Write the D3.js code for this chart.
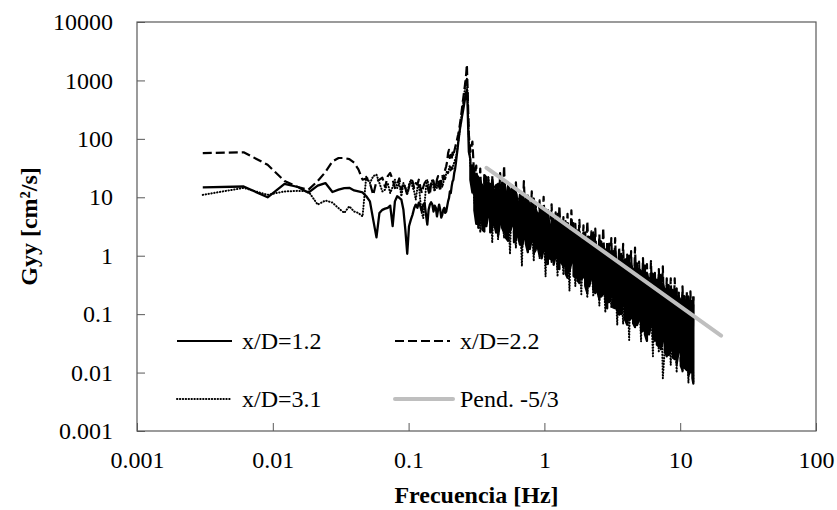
<!DOCTYPE html>
<html>
<head>
<meta charset="utf-8">
<script src="https://cdn.jsdelivr.net/npm/d3@7"></script>
<style>
    body { margin: 0; background: #fff; }
    text { font-family: "Liberation Serif", "Times New Roman", serif; fill: #000; }
</style>
</head>
<body>
<main></main>
<script>
// frequency bins (Hz), low range: one bin every 25/8192 Hz
const freqLow = [0.00305, 0.0061, 0.00916, 0.0122, 0.0153, 0.0183, 0.0214, 0.0244, 0.0275, 0.0305,
    0.0336, 0.0366, 0.0397, 0.0427, 0.0458, 0.0488, 0.0519, 0.0549, 0.058, 0.061,
    0.0641, 0.0671, 0.0702, 0.0732, 0.0763, 0.0793, 0.0824, 0.0854, 0.0885, 0.0916,
    0.0946, 0.0977, 0.1007, 0.1038, 0.1068, 0.1099, 0.1129, 0.116, 0.119, 0.1221,
    0.1251, 0.1282, 0.1312, 0.1343, 0.1373, 0.1404, 0.1434, 0.1465, 0.1495, 0.1526,
    0.1556, 0.1587, 0.1617, 0.1648, 0.1678, 0.1709, 0.174, 0.177, 0.1801, 0.1831,
    0.1862, 0.1892, 0.1923, 0.1953, 0.1984, 0.2014, 0.2045, 0.2075, 0.2106, 0.2136,
    0.2167, 0.2197, 0.2228, 0.2258, 0.2289, 0.2319, 0.235, 0.238, 0.2411, 0.2441,
    0.2472, 0.2502, 0.2533, 0.2563, 0.2594, 0.2625, 0.2655, 0.2686, 0.2716, 0.2747, 0.2777];

// frequencies read along the dense part of the spectrum (Hz)
const freqBand = [0.285, 0.295, 0.305, 0.315, 0.326, 0.337, 0.349, 0.361, 0.373, 0.386,
    0.399, 0.413, 0.427, 0.441, 0.456, 0.472, 0.488, 0.505, 0.522, 0.540,
    0.558, 0.577, 0.597, 0.617, 0.638, 0.660, 0.683, 0.706, 0.730, 0.755,
    0.781, 0.807, 0.835, 0.863, 0.893, 0.923, 0.955, 0.987, 1.02, 1.06,
    1.09, 1.13, 1.17, 1.21, 1.25, 1.29, 1.34, 1.38, 1.43, 1.48,
    1.53, 1.58, 1.64, 1.69, 1.75, 1.81, 1.87, 1.94, 2.00, 2.07,
    2.14, 2.22, 2.29, 2.37, 2.45, 2.54, 2.62, 2.71, 2.81, 2.90,
    3.00, 3.11, 3.21, 3.32, 3.44, 3.55, 3.68, 3.80, 3.93, 4.07,
    4.21, 4.35, 4.50, 4.65, 4.81, 4.98, 5.15, 5.32, 5.50, 5.69,
    5.89, 6.09, 6.30, 6.51, 6.73, 6.96, 7.20, 7.45, 7.70, 7.96,
    8.24, 8.52, 8.81, 9.11, 9.42, 9.74, 10.1, 10.4, 10.8, 11.2,
    11.5, 11.9, 12.3, 12.5];

// Gyy [cm2/s], x/D=1.2
const gyy12Low = [14.8, 15.3, 10.0, 17, 15, 12, 15.8, 17.5, 12.3, 13.5,
    14.4, 14.5, 13.1, 12.6, 12.1, 10.4, 8.5, 4.1, 2.06, 5.4,
    6.1, 6.4, 6.6, 7.2, 3.2, 8.5, 10.4, 9.8, 9.1, 6.1,
    2.8, 1.08, 3.2, 4.1, 5.0, 6.5, 7.5, 6.6, 8.1, 7.0,
    5.7, 7.5, 8.0, 5.0, 3.4, 6.1, 7.5, 8.2, 7.5, 5.7,
    7.2, 6.6, 4.7, 6.1, 7.5, 6.1, 4.5, 5.0, 6.1, 6.6,
    5.4, 5.7, 7.0, 8.5, 9.7, 12.6, 11.8, 15.4, 18.7, 20,
    26, 30, 38, 50, 65, 85, 110, 140,
    170, 200, 240, 280, 330, 390, 460, 540, 620, 700, 400, 150, 60];
// dense part: upper and lower reach of the trace at each frequency
const gyy12BandHi = [45, 35, 28, 25, 22, 19, 15, 24, 22, 14,
    17, 20, 11.5, 16, 17, 13, 18, 19, 12, 15,
    13.5, 11, 15, 12, 7.8, 11, 10, 8, 10, 9,
    7.2, 8.5, 9.5, 6, 5.2, 7, 6.2, 5.5, 6.2, 5.8,
    3.2, 5.0, 4.6, 3.8, 5.2, 4.3, 3.4, 3.5, 3.9, 3.2,
    2.5, 3.2, 3.6, 2.3, 2.7, 2.6, 1.74, 2.4, 2.5, 2.0,
    2.1, 2.2, 2.5, 1.6, 1.35, 1.8, 1.74, 1.4, 1.26, 1.4,
    1.6, 1.1, 1.2, 1.2, 0.66, 1.0, 1.07, 0.8, 0.87, 0.9,
    1.0, 0.7, 0.58, 0.74, 0.74, 0.6, 0.54, 0.6, 0.68, 0.5,
    0.35, 0.5, 0.49, 0.37, 0.39, 0.42, 0.47, 0.33, 0.26, 0.32,
    0.31, 0.26, 0.26, 0.24, 0.275, 0.2, 0.17, 0.21, 0.2, 0.17,
    0.2, 0.17, 0.166, 0.2];
const gyy12BandLo = [20, 12, 6, 3.5, 3, 4.4, 2.8, 2.6, 3.2, 4.9,
    2.5, 3.0, 3.5, 2.5, 2.2, 3.7, 3.0, 2.5, 2.0, 1.8,
    2.6, 3.3, 1.7, 1.9, 2.2, 1.55, 1.4, 2.0, 1.6, 1.15,
    1.3, 1.9, 1.1, 1.26, 1.4, 1.0, 0.9, 1.3, 0.85, 0.72,
    0.9, 0.85, 0.7, 1.0, 0.6, 0.59, 0.75, 0.66, 0.5, 0.42,
    0.55, 0.76, 0.45, 0.42, 0.38, 0.34, 0.4, 0.43, 0.3, 0.23,
    0.3, 0.43, 0.26, 0.23, 0.25, 0.18, 0.2, 0.22, 0.17, 0.126,
    0.16, 0.21, 0.13, 0.126, 0.12, 0.098, 0.1, 0.15, 0.08, 0.066,
    0.08, 0.085, 0.07, 0.06, 0.065, 0.081, 0.05, 0.052, 0.045, 0.035,
    0.045, 0.066, 0.04, 0.035, 0.03, 0.028, 0.025, 0.036, 0.024, 0.019,
    0.02, 0.026, 0.018, 0.017, 0.014, 0.023, 0.013, 0.011, 0.012, 0.011,
    0.009, 0.0105, 0.008, 0.0065];

// x/D=2.2
const gyy22Low = [57, 59, 36, 19, 15, 13.5, 19, 27, 41, 47,
    47, 45, 39, 30, 20, 21, 17.5, 11, 19, 20,
    21.6, 15, 23, 26, 20, 14.4, 16.5, 21, 13.5, 17.5,
    14.4, 11, 15, 20, 19, 14.4, 17.5, 16.5, 20, 15,
    11.8, 15, 17.5, 19, 16.5, 12.6, 11, 17.5, 20, 19,
    14.4, 15, 20, 23, 16.5, 12.6, 20, 23, 20, 26,
    30, 34, 41, 57, 65, 47, 53, 44, 58, 50,
    61, 70, 80, 90, 105,
    120, 140, 170, 210, 260, 330, 420, 520, 650, 800, 1000, 1300, 1860, 800, 300, 120];
const gyy22Band = [60, 90, 20, 35, 5.6, 31, 3.4, 21, 6.3, 22,
    3.8, 23, 5.1, 16, 2.7, 26, 4.1, 35, 2.7, 16,
    4.3, 16, 2.4, 18, 2.9, 10.5, 1.66, 19, 2.7, 10.7,
    1.74, 12.6, 2.0, 7.1, 1.3, 8.9, 2.2, 10.2, 1.23, 6.6,
    1.38, 7.6, 0.78, 5.5, 1.23, 7.1, 0.78, 4.6, 0.87, 5.2,
    0.56, 6.0, 0.79, 3.5, 0.5, 4.1, 0.56, 3.3, 0.32, 3.9,
    0.56, 2.6, 0.32, 2.9, 0.34, 2.3, 0.21, 3.0, 0.30, 1.7,
    0.19, 2.0, 0.21, 2.0, 0.115, 1.4, 0.21, 1.6, 0.115, 1.05,
    0.126, 1.2, 0.079, 1.38, 0.112, 0.79, 0.068, 0.91, 0.076, 0.72,
    0.042, 0.81, 0.074, 0.51, 0.042, 0.59, 0.047, 0.66, 0.029, 0.41,
    0.041, 0.41, 0.026, 0.41, 0.028, 0.26, 0.0155, 0.3, 0.023, 0.24,
    0.013, 0.245, 0.0098, 0.2];

// x/D=3.1
const gyy31Low = [11, 14.5, 11, 12.6, 12.9, 12.6, 7.5, 8.8, 8.1, 6.5,
    5.4, 7, 5.7, 5.4, 4.7, 23, 17.5, 23, 24.5, 17.5,
    12.6, 13.5, 17.5, 11.8, 15, 20, 14.4, 17.5, 10.4, 17.5,
    15, 11, 16.5, 20, 15, 12.6, 9.1, 14.4, 16.5, 8.5,
    5.4, 4.4, 8, 15, 20, 16.5, 13.5, 17.5, 20, 14.4,
    12.6, 16.5, 14.4, 17.5, 14.4, 20, 19, 15, 17.5, 23,
    20, 26, 28, 25, 31, 35, 28, 33, 30, 37,
    39, 44, 48, 55,
    70, 90, 110, 140, 180, 230, 290, 360, 450, 560, 700, 850, 1000, 1100, 600, 250, 100];
const gyy31Band = [35, 25, 8, 23, 11, 2.5, 17, 6.6, 3.2, 22,
    10.7, 1.66, 16, 7.1, 1.9, 16.6, 5.1, 2.0, 10.7, 7.2,
    1.07, 14.5, 4.8, 1.35, 9.8, 5.4, 0.66, 9.5, 3.7, 1.29,
    6.5, 4.1, 0.81, 7.9, 2.8, 0.89, 5.5, 3.1, 0.44, 5.2,
    2.1, 0.76, 3.6, 2.2, 0.44, 4.5, 1.5, 0.47, 3.1, 1.66,
    0.25, 3.0, 1.13, 0.30, 2.1, 1.24, 0.22, 2.6, 0.84, 0.19,
    1.9, 0.93, 0.2, 1.8, 0.6, 0.14, 1.74, 0.65, 0.107, 1.07,
    0.44, 0.13, 1.2, 0.48, 0.065, 1.12, 0.31, 0.068, 0.78, 0.33,
    0.036, 0.76, 0.23, 0.06, 0.52, 0.24, 0.034, 0.65, 0.16, 0.035,
    0.44, 0.17, 0.019, 0.41, 0.11, 0.022, 0.3, 0.008, 0.026, 0.32,
    0.08, 0.0135, 0.26, 0.085, 0.01, 0.23, 0.055, 0.01, 0.18, 0.044,
    0.0066, 0.17, 0.035, 0.0065];

// reference slope -5/3 (end points)
const slopeFreq = [0.375, 20];
const slopeGyy = [32, 0.043];

const xTicks = [0.001, 0.01, 0.1, 1, 10, 100];
const yTicks = [0.001, 0.01, 0.1, 1, 10, 100, 1000, 10000];

const width = 837, height = 510;
const plot = {left: 137, right: 816, top: 22, bottom: 431};
const font = '"Liberation Serif", "Times New Roman", serif';

const svg = d3.select("main").append("svg")
    .attr("width", width)
    .attr("height", height);

const x = d3.scaleLog().domain([0.001, 100]).range([plot.left, plot.right]);
const y = d3.scaleLog().domain([0.001, 10000]).range([plot.bottom, plot.top]);

// axes (ticks pointing inward)
const xAxis = svg.append("g")
    .attr("transform", `translate(0,${plot.bottom})`)
    .call(d3.axisBottom(x).tickValues(xTicks).tickFormat(d => String(d))
        .tickSizeInner(-8).tickSizeOuter(0).tickPadding(20));

const yAxis = svg.append("g")
    .attr("transform", `translate(${plot.left},0)`)
    .call(d3.axisLeft(y).tickValues(yTicks).tickFormat(d => String(d))
        .tickSizeInner(-8).tickSizeOuter(0).tickPadding(24));

[xAxis, yAxis].forEach(g => {
    g.attr("font-size", 24).attr("font-family", font);
    g.select(".domain").remove();
    g.selectAll(".tick line").attr("stroke", "#595959");
    g.selectAll(".tick text").attr("fill", "#000");
});

// plot frame
svg.append("rect")
    .attr("x", plot.left)
    .attr("y", plot.top)
    .attr("width", plot.right - plot.left)
    .attr("height", plot.bottom - plot.top)
    .attr("fill", "none")
    .attr("stroke", "#595959")
    .attr("stroke-width", 1.2);

svg.append("clipPath").attr("id", "clip")
    .append("rect")
    .attr("x", plot.left).attr("y", plot.top)
    .attr("width", plot.right - plot.left).attr("height", plot.bottom - plot.top);

const line = d3.line()
    .x(d => x(d[0]))
    .y(d => y(d[1]));

// dense part of x/D=1.2: trace goes up and down within each frequency column
const band12 = freqBand.map((f, i) => i % 2 === 0
    ? [[f, gyy12BandHi[i]], [f, gyy12BandLo[i]]]
    : [[f, gyy12BandLo[i]], [f, gyy12BandHi[i]]]).flat();

const series = [
    {label: "x/D=1.2", data: d3.zip(freqLow, gyy12Low).concat(band12),
        stroke: "#000", width: 2.3, dash: null, cap: "butt"},
    {label: "x/D=2.2", data: d3.zip(freqLow.concat(freqBand), gyy22Low.concat(gyy22Band)),
        stroke: "#000", width: 2.2, dash: "9,4", cap: "butt"},
    {label: "x/D=3.1", data: d3.zip(freqLow.concat(freqBand), gyy31Low.concat(gyy31Band)),
        stroke: "#000", width: 2, dash: "0.4,2.5", cap: "round"},
    {label: "Pend. -5/3", data: d3.zip(slopeFreq, slopeGyy),
        stroke: "#bfbfbf", width: 4, dash: null, cap: "round"}
];

// series lines
svg.append("g")
    .attr("clip-path", "url(#clip)")
    .selectAll("path")
    .data(series)
    .enter().append("path")
    .attr("d", d => line(d.data))
    .attr("fill", "none")
    .attr("stroke", d => d.stroke)
    .attr("stroke-width", d => d.width)
    .attr("stroke-dasharray", d => d.dash)
    .attr("stroke-linecap", d => d.cap)
    .attr("stroke-linejoin", "round");

// legend, 2 x 2 inside the plot
const legendPos = [[177, 341], [395, 341], [177, 399], [395, 399]];
const legend = svg.append("g")
    .selectAll("g")
    .data(series)
    .enter().append("g")
    .attr("transform", (d, i) => `translate(${legendPos[i][0]},${legendPos[i][1]})`);

legend.append("line")
    .attr("x1", 0)
    .attr("x2", (d, i) => i === 3 ? 58 : 55)
    .attr("stroke", d => d.stroke)
    .attr("stroke-width", (d, i) => i === 3 ? 4 : 2)
    .attr("stroke-dasharray", d => d.dash)
    .attr("stroke-linecap", d => d.cap);

legend.append("text")
    .attr("x", 65)
    .attr("y", 8)
    .attr("font-size", 24)
    .text(d => d.label);

// axis titles
svg.append("text")
    .attr("x", (plot.left + plot.right) / 2)
    .attr("y", 503)
    .attr("text-anchor", "middle")
    .attr("font-size", 24)
    .attr("font-weight", "bold")
    .text("Frecuencia [Hz]");

svg.append("text")
    .attr("transform", `translate(37,${(plot.top + plot.bottom) / 2}) rotate(-90)`)
    .attr("text-anchor", "middle")
    .attr("font-size", 24)
    .attr("font-weight", "bold")
    .text("Gyy [cm²/s]");
</script>
</body>
</html>
